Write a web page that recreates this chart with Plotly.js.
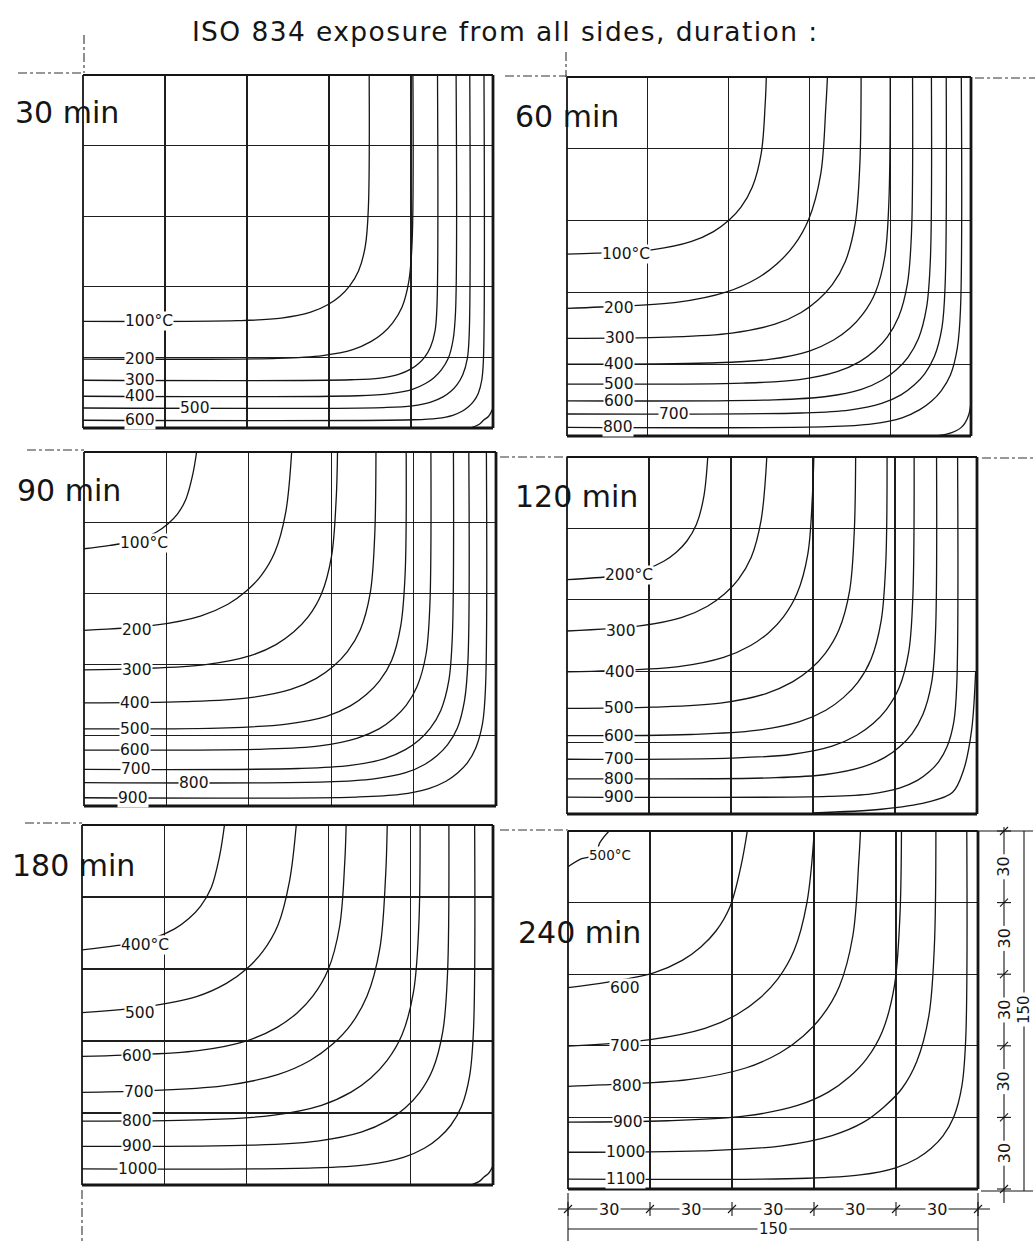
<!DOCTYPE html>
<html>
<head>
<meta charset="utf-8">
<script src="https://cdn.plot.ly/plotly-3.0.1.min.js"></script>
<style>html,body{margin:0;padding:0;background:#fff}</style>
</head>
<body>
<div id="chart" style="width:1035px;height:1241px"></div>
<script>
// ---------------- DATA ----------------
const titleText = 'ISO 834 exposure from all sides, duration :';
const durations = ['30 min', '60 min', '90 min', '120 min', '180 min', '240 min'];

// Isotherm temperatures (°C) per exposure duration
const temps30  = [100, 200, 300, 400, 500, 600];
const temps60  = [100, 200, 300, 400, 500, 600, 700, 800];
const temps90  = [100, 200, 300, 400, 500, 600, 700, 800, 900];
const temps120 = [200, 300, 400, 500, 600, 700, 800, 900];
const temps180 = [400, 500, 600, 700, 800, 900, 1000];
const temps240 = [500, 600, 700, 800, 900, 1000, 1100];

// Half isotherms, points [u, v] in mm: u = distance from the right (exposed) face,
// v = distance from the bottom (exposed) face; from the left symmetry edge (u = 150)
// to the diagonal (u = v). The other half is the mirror image about the diagonal.
const iso30 = [
  [[150,45.3],[93.5,45.6],[77.4,46.7],[66.7,49.2],[60.3,52.5],[56,56]],
  [[150,29.3],[78.8,29.6],[62.3,30.8],[51.3,33.3],[44.7,36.7],[40.3,40.3]],
  [[150,20.3],[51.8,20.5],[41.3,21.2],[34.3,22.9],[30.1,25],[27.3,27.3]],
  [[150,13.5],[49.5,13.7],[37.5,14.6],[29.5,16.4],[24.7,18.9],[21.5,21.5]],
  [[150,8.5],[40,8.7],[29.5,9.4],[22.5,11.1],[18.3,13.2],[15.5,15.5]],
  [[150,3.3],[29,3.5],[20.4,4.1],[14.7,5.4],[11.3,7.1],[9,9]]
];
const iso60 = [
  [[150,76],[139,76.4],[118,77.9],[104,81.2],[95.6,85.4],[90,90]],
  [[150,53.3],[137.5,53.9],[109.4,55.8],[90.7,60.2],[79.5,65.8],[72,72]],
  [[150,40.8],[112.8,41.3],[88.8,43],[72.8,46.7],[63.2,51.5],[56.8,56.8]],
  [[150,30],[97.5,30.5],[75,32],[60,35.5],[51,40.1],[45,45]],
  [[150,21.7],[84.7,22.1],[63.7,23.6],[49.7,26.9],[41.3,31.1],[35.7,35.7]],
  [[150,14.7],[73.2,15.1],[53.7,16.5],[40.7,19.5],[32.9,23.4],[27.7,27.7]],
  [[150,9.2],[63.2,9.6],[45.2,10.8],[33.2,13.6],[26,17.2],[21.2,21.2]],
  [[150,3.6],[53.1,3.9],[36.6,5.1],[25.6,7.6],[19,11],[14.6,14.6]]
];
const iso90 = [
  [[150,109],[140.5,110.4],[130,112.9],[123.7,116],[119.5,119.5]],
  [[150,74.4],[124.2,76.6],[107.6,80.5],[97.6,85.5],[91,91]],
  [[150,57.7],[129.7,58.2],[105.7,59.9],[89.7,63.6],[80.1,68.4],[73.7,73.7]],
  [[150,43.7],[113.5,44.2],[90.2,45.8],[74.7,49.4],[65.4,54.1],[59.2,59.2]],
  [[150,32.7],[98,33.1],[76.2,34.7],[61.7,38],[53,42.4],[47.2,47.2]],
  [[150,23.7],[84.5,24.1],[64.2,25.5],[50.7,28.7],[42.6,32.7],[37.2,37.2]],
  [[150,15.5],[71.8,15.9],[53,17.2],[40.5,20.1],[33,23.9],[28,28]],
  [[150,9.9],[61.7,10.2],[44.4,11.5],[32.9,14.1],[26,17.6],[21.4,21.4]],
  [[150,3.5],[50.8,3.8],[35,4.9],[24.5,7.4],[18.2,10.5],[14,14]]
];
const iso120 = [
  [[150,98.5],[133,100],[121.5,102.7],[114.6,106.2],[110,110]],
  [[150,76.9],[123.4,79],[107.9,82.6],[98.6,87.3],[92.4,92.4]],
  [[150,59.7],[134,60.2],[109.2,61.9],[92.7,65.8],[82.8,70.8],[76.2,76.2]],
  [[150,44.4],[118.7,44.9],[93.9,46.6],[77.4,50.5],[67.5,55.5],[60.9,60.9]],
  [[150,32.9],[104.9,33.4],[80.9,35.1],[64.9,38.8],[55.3,43.6],[48.9,48.9]],
  [[150,23],[90.5,23.5],[68,25],[53,28.5],[44,33.1],[38,38]],
  [[150,14.8],[75.5,15.2],[55.3,16.6],[41.8,19.8],[33.7,23.8],[28.3,28.3]],
  [[150,7.1],[54.4,7.4],[38.6,8.5],[28.1,11],[21.8,14.1],[17.6,17.6]]
];
const iso180 = [
  [[150,98],[137,99.8],[124,102.8],[116.2,106.7],[111,111]],
  [[150,71.8],[126.4,74.3],[108.2,78.5],[97.3,84],[90,90]],
  [[150,53.6],[134.6,54.1],[107.6,56],[89.6,60.2],[78.8,65.7],[71.6,71.6]],
  [[150,38.6],[128.6,39.2],[98.6,41.3],[78.6,46],[66.6,52],[58.6,58.6]],
  [[150,26.6],[107.6,27.1],[80.6,29],[62.6,33.2],[51.8,38.7],[44.6,44.6]],
  [[150,16.1],[88.1,16.6],[64.1,18.3],[48.1,22],[38.5,26.8],[32.1,32.1]],
  [[150,6.7],[65.2,7.1],[45.7,8.5],[32.7,11.5],[24.9,15.4],[19.7,19.7]]
];
const iso240 = [
  [[150,135],[145,138.4],[140,140]],
  [[150,84.4],[135.4,86.7],[118.4,90.7],[108.2,95.8],[101.4,101.4]],
  [[150,59.9],[119.9,62.6],[99.9,67.3],[87.9,73.3],[79.9,79.9]],
  [[150,43],[137.5,43.6],[106,45.8],[85,50.7],[72.4,57.1],[64,64]],
  [[150,28],[113.5,28.6],[85,30.6],[66,35],[54.6,40.7],[47,47]],
  [[150,15.4],[100.9,16],[72.4,18],[53.4,22.4],[42,27.9],[34.4,34.4]],
  [[150,4.1],[62.6,4.5],[43.1,5.9],[30.1,8.9],[22.3,12.8],[17.1,17.1]]
];
// Unlabelled hottest isotherm wrapping the exposed corner (half, from the bottom face to the diagonal)
const corner30  = [[8.5,0],[5,1.6],[3.4,3.4]];
const corner60  = [[14,0],[9,0.8],[5.5,2.2],[3.6,3.6]];
const corner120 = [[60,0.5],[35,2],[18.5,4.9],[9,9]];
const corner180 = [[8,0],[5,1.5],[3.3,3.3]];

// Dimensions (mm)
const cellSize = 30;
const sideLength = 150;
const gridTicks = [30, 60, 90, 120];

// ---------------- LAYOUT ----------------
const W = 1035, H = 1241;
const X = px => px / W;
const Y = py => 1 - py / H;
const FONT = 'DejaVu Sans, Noto Sans, sans-serif';
const INK = '#151515';

const panels = [
  {title: durations[0], temps: temps30,  iso: iso30,  corner: corner30,  box: [83, 75, 493, 428],   labX: [24, 21, 21, 21, 41, 21], firstDy: 0, tpos: [13, 112]},
  {title: durations[1], temps: temps60,  iso: iso60,  corner: corner60,  box: [567, 77, 971, 436],  labX: [22, 19.2, 19.6, 19.4, 19.4, 19.4, 39.7, 19], firstDy: 0, tpos: [513, 116]},
  {title: durations[2], temps: temps90,  iso: iso90,  corner: null,      box: [84, 452, 496, 806],  labX: [22, 19.4, 19.2, 18.4, 18.5, 18.4, 18.8, 40, 18], firstDy: 6, tpos: [15, 490]},
  {title: durations[3], temps: temps120, iso: iso120, corner: corner120, box: [567, 457, 977, 814], labX: [22.7, 19.8, 19.5, 19.2, 19, 19, 19, 19], firstDy: 5, tpos: [513, 496]},
  {title: durations[4], temps: temps180, iso: iso180, corner: corner180, box: [82, 825, 493, 1185], labX: [23, 21.3, 20.2, 20.7, 20.2, 20.2, 20.2], firstDy: 5, tpos: [10, 865]},
  {title: durations[5], temps: temps240, iso: iso240, corner: null,      box: [568, 831, 978, 1189], labX: [15.2, 20.9, 20.9, 21.5, 22, 21.2, 21], firstDy: 0, tpos: [516, 932]}
];

function mirrorFull(half) {
  const pts = half.slice();
  for (let i = half.length - 2; i >= 0; i--) pts.push([half[i][1], half[i][0]]);
  return pts;
}

const traces = [];
const annotations = [];
const shapes = [];
const layout = {
  width: W, height: H,
  margin: {l: 0, r: 0, t: 0, b: 0},
  paper_bgcolor: '#fff', plot_bgcolor: '#fff',
  showlegend: false,
  font: {family: FONT, color: INK}
};

function paperText(px, py, text, opts) {
  annotations.push(Object.assign({
    xref: 'paper', yref: 'paper', x: X(px), y: Y(py), xanchor: 'center', yanchor: 'middle',
    text: text, showarrow: false, font: {family: FONT, size: 16, color: INK}
  }, opts || {}));
}

panels.forEach((p, k) => {
  const id = k === 0 ? '' : String(k + 1);
  const xa = 'x' + id, ya = 'y' + id;
  const [x0, y0, x1, y1] = p.box;
  const axCommon = {
    range: [0, sideLength], tickvals: gridTicks, showgrid: true, gridcolor: '#1e1e1e', gridwidth: 1.3,
    showticklabels: false, ticks: '', zeroline: false, showline: false, fixedrange: true
  };
  layout['xaxis' + id] = Object.assign({}, axCommon, {domain: [X(x0), X(x1)], anchor: ya});
  layout['yaxis' + id] = Object.assign({}, axCommon, {domain: [Y(y1), Y(y0)], anchor: xa});

  const curves = p.iso.slice();
  if (p.corner) curves.push(p.corner);
  curves.forEach(half => {
    const pts = mirrorFull(half);
    traces.push({
      x: pts.map(q => sideLength - q[0]), y: pts.map(q => q[1]),
      xaxis: xa, yaxis: ya, mode: 'lines', hoverinfo: 'skip',
      line: {color: INK, width: 1.3, shape: 'spline', smoothing: 1}
    });
  });

  // borders: exposed faces (bottom, right) heavier
  const xd = xa + ' domain', yd = ya + ' domain';
  [[0, 1, 1, 1, 1.8], [0, 0, 0, 1, 1.8], [0, 0, 1, 0, 2.8], [1, 0, 1, 1, 2.8]].forEach(b => {
    shapes.push({type: 'line', xref: xd, yref: yd, x0: b[0], y0: b[1], x1: b[2], y1: b[3],
      line: {color: INK, width: b[4]}, layer: 'above'});
  });

  // isotherm labels
  p.temps.forEach((t, i) => {
    const txt = i === 0 ? t + '°C' : String(t);
    let yv = p.iso[i][0][1];
    let size = 15.5;
    if (k === 5 && i === 0) { yv = 139.8; size = 13.5; }
    annotations.push({
      xref: xa, yref: ya, x: p.labX[i], y: yv, xanchor: 'center', yanchor: 'middle',
      text: txt, showarrow: false,
      font: {family: FONT, size: size, color: INK}, bgcolor: '#fff', borderpad: 0,
      yshift: i === 0 ? p.firstDy : 0
    });
  });

  // panel title
  paperText(p.tpos[0], p.tpos[1], p.title, {xanchor: 'left', font: {family: FONT, size: 30, color: INK}});
});

// main heading
paperText(505, 32, titleText, {font: {family: FONT, size: 26.5, color: INK}});

// symmetry axes (dash-dot)
const dashLines = [
  [18, 73, 83, 73], [505, 76, 567, 76], [975, 78, 1035, 78],
  [84, 35, 84, 73], [566, 52, 566, 77],
  [27, 450, 84, 450], [500, 457, 567, 457], [982, 458, 1035, 458],
  [25, 823, 82, 823], [500, 830, 568, 830],
  [82, 1190, 82, 1241]
];
dashLines.forEach(l => shapes.push({type: 'line', xref: 'paper', yref: 'paper',
  x0: X(l[0]), y0: Y(l[1]), x1: X(l[2]), y1: Y(l[3]), line: {color: '#333', width: 1.1, dash: 'dashdot'}}));

// dimensioning of the 240 min panel
const b6 = panels[5].box;
const pxX = mm => b6[0] + (b6[2] - b6[0]) * mm / sideLength;
const pxY = mm => b6[3] - (b6[3] - b6[1]) * mm / sideLength;
const seg = (ax, ay, bx, by, w) => shapes.push({type: 'line', xref: 'paper', yref: 'paper',
  x0: X(ax), y0: Y(ay), x1: X(bx), y1: Y(by), line: {color: INK, width: w || 1.1}});
const dimX = 1004, dimY = 1209, dimX2 = 1024, dimY2 = 1229;
// extension lines
seg(b6[2], b6[1], 1033, b6[1]); seg(b6[2] + 3, b6[3] + 2, 1033, b6[3] + 2);
seg(b6[0], b6[3] + 4, b6[0], 1241); seg(b6[2], b6[3] + 4, b6[2], 1241);
// dimension lines
seg(dimX, b6[1] - 4, dimX, b6[3] + 14);
seg(dimX2, b6[1], dimX2, b6[3] + 2);
seg(b6[0] - 10, dimY, b6[2] + 12, dimY);
seg(b6[0], dimY2, b6[2], dimY2);
const ticksMM = [0].concat(gridTicks, [sideLength]);
ticksMM.forEach(mm => {
  const yy = pxY(mm), xx = pxX(mm);
  seg(dimX - 7, yy, dimX + 7, yy); seg(dimX - 4, yy + 4, dimX + 4, yy - 4);
  seg(xx, dimY - 7, xx, dimY + 7); seg(xx - 4, dimY + 4, xx + 4, dimY - 4);
});
for (let i = 0; i < 5; i++) {
  const mid = cellSize * i + cellSize / 2;
  paperText(dimX, pxY(mid), String(cellSize), {textangle: -90, bgcolor: '#fff', borderpad: 2});
  paperText(pxX(mid), dimY, String(cellSize), {bgcolor: '#fff', borderpad: 1});
}
paperText(dimX2, pxY(75), String(sideLength), {textangle: -90, bgcolor: '#fff', borderpad: 2, font: {family: FONT, size: 15, color: INK}});
paperText(pxX(75), dimY2, String(sideLength), {bgcolor: '#fff', borderpad: 1, font: {family: FONT, size: 15, color: INK}});

layout.annotations = annotations;
layout.shapes = shapes;

Plotly.newPlot('chart', traces, layout, {staticPlot: true, displayModeBar: false}).then(gd => {
  gd.querySelectorAll('text.annotation-text').forEach(t => {
    if (t.textContent === titleText) t.setAttribute('letter-spacing', '1.4');
  });
});
</script>
</body>
</html>
